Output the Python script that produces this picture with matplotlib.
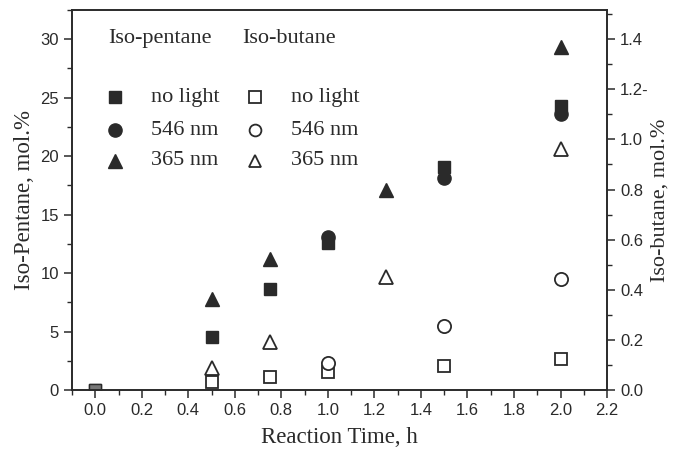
import numpy as np
import matplotlib
matplotlib.use('Agg')
import matplotlib.pyplot as plt
from matplotlib.ticker import MultipleLocator, FixedLocator

# iso-pentane (left axis), mol.%
t_pen_dark = [0.0, 0.5, 0.75, 1.0, 1.5, 2.0]
pen_dark = [0.0, 4.5, 8.6, 12.6, 19.1, 24.3]
t_pen_546 = [1.0, 1.5, 2.0]
pen_546 = [13.1, 18.1, 23.6]
t_pen_365 = [0.5, 0.75, 1.25, 2.0]
pen_365 = [7.8, 11.2, 17.1, 29.3]

# iso-butane (right axis), mol.%
t_but_dark = [0.5, 0.75, 1.0, 1.5, 2.0]
but_dark = [0.033, 0.053, 0.072, 0.097, 0.124]
t_but_546 = [1.0, 1.5, 2.0]
but_546 = [0.107, 0.256, 0.445]
t_but_365 = [0.5, 0.75, 1.25, 2.0]
but_365 = [0.088, 0.19, 0.45, 0.96]

serif = 'Liberation Serif'
sans = 'Liberation Sans'
ink = '#2a2a2a'

fig = plt.figure(figsize=(6.73, 4.53), dpi=100)
ax = fig.add_axes([0.107, 0.139, 0.795, 0.839])
ax2 = ax.twinx()

ax.plot(t_pen_dark, pen_dark, 's', color=ink, ms=9, ls='none')
ax.plot(t_pen_546, pen_546, 'o', color=ink, ms=9.5, ls='none')
ax.plot(t_pen_365, pen_365, '^', color=ink, ms=10.5, ls='none')
ax.plot([0.0], [0.0], 's', color='#777777', mec=ink, ms=9)

ax2.plot(t_but_dark, but_dark, 's', mfc='white', mec=ink, mew=1.3, ms=8.5, ls='none')
ax2.plot(t_but_546, but_546, 'o', mfc='white', mec=ink, mew=1.3, ms=9.5, ls='none')
ax2.plot(t_but_365, but_365, '^', mfc='white', mec=ink, mew=1.3, ms=10, ls='none')

ax.set_xlim(-0.1, 2.2)
ax.set_ylim(0, 32.5)
ax2.set_ylim(0, 32.5 * 1.4 / 30)

ax.xaxis.set_major_locator(MultipleLocator(0.2))
ax.xaxis.set_minor_locator(MultipleLocator(0.1))
ax.yaxis.set_major_locator(MultipleLocator(5))
ax.yaxis.set_minor_locator(MultipleLocator(2.5))
ax2.yaxis.set_major_locator(FixedLocator([0, 0.2, 0.4, 0.6, 0.8, 1.0, 1.2, 1.4]))
ax2.yaxis.set_minor_locator(MultipleLocator(0.1))
ax2.set_yticklabels(['0.0', '0.2', '0.4', '0.6', '0.8', '1.0', '1.2-', '1.4'])

for a in (ax, ax2):
    a.tick_params(which='major', length=6, width=1.1, color=ink, labelsize=12, labelcolor=ink)
    a.tick_params(which='minor', length=3.5, width=1.0, color=ink)
    for sp in a.spines.values():
        sp.set_color(ink)
        sp.set_linewidth(1.2)
ax.tick_params(axis='x', which='both', top=False)
for lab in ax.get_xticklabels() + ax.get_yticklabels() + ax2.get_yticklabels():
    lab.set_fontfamily(sans)

ax.set_xlabel('Reaction Time, h', fontfamily=serif, fontsize=16.5, color=ink, labelpad=6)
ax.set_ylabel('Iso-Pentane, mol.%', fontfamily=serif, fontsize=16.5, color=ink, labelpad=4)
ax2.set_ylabel('Iso-butane, mol.%', fontfamily=serif, fontsize=16, color=ink, labelpad=1)

# hand-built two-column key
tr = ax.transAxes
ax.text(0.068, 0.925, 'Iso-pentane', transform=tr, fontfamily=serif, fontsize=16, color=ink, va='center')
ax.text(0.318, 0.925, 'Iso-butane', transform=tr, fontfamily=serif, fontsize=16, color=ink, va='center')
rows = [0.771, 0.684, 0.603]
labels = ['no light', '546 nm', '365 nm']
marks = ['s', 'o', '^']
for y, lab, m in zip(rows, labels, marks):
    ax.plot([0.081], [y], m, transform=tr, color=ink, ms=9.5 if m != 's' else 8.5, clip_on=False)
    ax.text(0.148, y, lab, transform=tr, fontfamily=serif, fontsize=16, color=ink, va='center')
    ax.plot([0.342], [y], m, transform=tr, mfc='white', mec=ink, mew=1.3, ms=8.5, clip_on=False)
    ax.text(0.41, y, lab, transform=tr, fontfamily=serif, fontsize=16, color=ink, va='center')

fig.savefig('out.png', dpi=100)
